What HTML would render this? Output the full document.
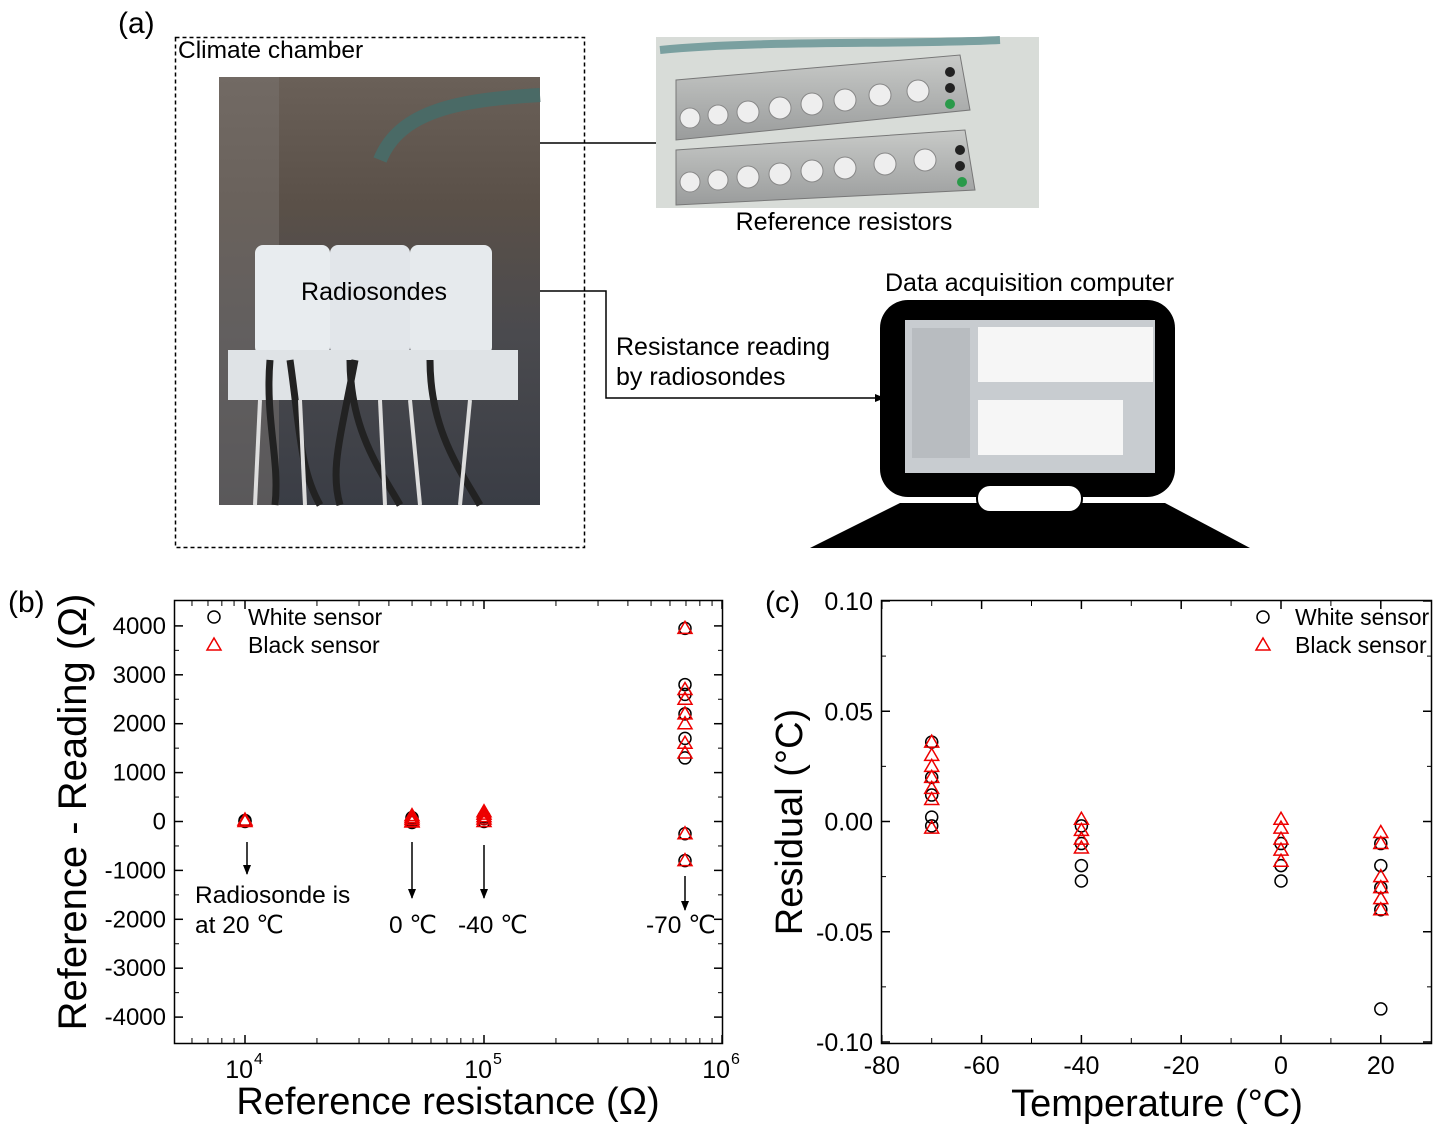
<!DOCTYPE html>
<html><head><meta charset="utf-8">
<style>
html,body{margin:0;padding:0;background:#fff;}
svg{display:block;font-family:"Liberation Sans",Arial,sans-serif;}
</style></head>
<body>
<svg id="s" width="1433" height="1126" viewBox="0 0 1433 1126" xmlns="http://www.w3.org/2000/svg">
<defs>
<linearGradient id="ph" x1="0" y1="0" x2="0" y2="1">
<stop offset="0" stop-color="#6a6058"/><stop offset="0.3" stop-color="#5a5048"/><stop offset="0.6" stop-color="#4a4a4e"/><stop offset="1" stop-color="#3a3d45"/></linearGradient>
<linearGradient id="rr" x1="0" y1="0" x2="0" y2="1">
<stop offset="0" stop-color="#c8cac8"/><stop offset="1" stop-color="#9a9c9c"/></linearGradient>
<marker id="ar" markerWidth="10" markerHeight="10" refX="9" refY="5" orient="auto" markerUnits="userSpaceOnUse"><path d="M0,1 L10,5 L0,9 z" fill="#000"/></marker>
</defs>
<!-- (a) -->
<text x="118" y="33" font-size="30">(a)</text>
<rect x="175.5" y="37.5" width="409" height="510" fill="none" stroke="#000" stroke-width="1.5" stroke-dasharray="4,3"/>
<text x="178" y="58" font-size="24.5">Climate chamber</text>
<rect x="219" y="77" width="321" height="428" fill="url(#ph)"/>
<rect x="219" y="77" width="60" height="428" fill="#7a7470" opacity="0.5"/>
<path d="M380,160 C400,110 460,100 540,95" stroke="#4a6a66" stroke-width="14" fill="none"/>
<rect x="255" y="245" width="75" height="110" rx="8" fill="#e8ecef"/>
<rect x="330" y="245" width="80" height="110" rx="8" fill="#e2e6ea"/>
<rect x="410" y="245" width="82" height="110" rx="8" fill="#e6eaed"/>
<rect x="228" y="350" width="290" height="50" fill="#dfe3e6"/>
<g stroke="#222" stroke-width="7" fill="none">
<path d="M270,360 C265,420 280,460 275,505"/><path d="M290,360 C300,430 300,470 320,505"/><path d="M350,360 C350,430 380,470 400,505"/><path d="M430,360 C430,430 460,470 480,505"/><path d="M355,360 C340,440 330,470 340,505"/></g>
<g stroke="#ddd" stroke-width="4" fill="none">
<path d="M260,400 L255,505"/><path d="M300,400 L305,505"/><path d="M380,400 L385,505"/><path d="M410,400 L420,505"/><path d="M470,400 L460,505"/></g>
<text x="374" y="300" font-size="25" text-anchor="middle">Radiosondes</text>
<line x1="540" y1="143" x2="656" y2="143" stroke="#000" stroke-width="1.5"/>
<rect x="656" y="37" width="383" height="171" fill="#d8dcd8"/>
<path d="M676,80 L960,55 L970,110 L676,140 z" fill="url(#rr)" stroke="#777"/>
<path d="M676,150 L965,130 L975,190 L676,205 z" fill="url(#rr)" stroke="#777"/>
<g fill="#eee" stroke="#888">
<circle cx="690" cy="118" r="10"/><circle cx="718" cy="115" r="10"/><circle cx="748" cy="112" r="11"/><circle cx="780" cy="108" r="11"/><circle cx="812" cy="104" r="11"/><circle cx="845" cy="100" r="11"/><circle cx="880" cy="95" r="11"/><circle cx="918" cy="91" r="11"/>
<circle cx="690" cy="182" r="10"/><circle cx="718" cy="180" r="10"/><circle cx="748" cy="177" r="11"/><circle cx="780" cy="174" r="11"/><circle cx="812" cy="171" r="11"/><circle cx="845" cy="168" r="11"/><circle cx="885" cy="164" r="11"/><circle cx="925" cy="160" r="11"/></g>
<circle cx="950" cy="72" r="5" fill="#222"/><circle cx="950" cy="88" r="5" fill="#222"/><circle cx="950" cy="104" r="5" fill="#2a9a4a"/>
<circle cx="960" cy="150" r="5" fill="#222"/><circle cx="960" cy="166" r="5" fill="#222"/><circle cx="962" cy="182" r="5" fill="#2a9a4a"/>
<path d="M660,50 C760,40 900,45 1000,40" stroke="#7aa0a0" stroke-width="8" fill="none"/>
<text x="844" y="230" font-size="25" text-anchor="middle">Reference resistors</text>
<polyline points="540,291 606,291 606,398 884,398" fill="none" stroke="#000" stroke-width="1.5" marker-end="url(#ar)"/>
<text x="616" y="355" font-size="25">Resistance reading</text>
<text x="616" y="385" font-size="25">by radiosondes</text>
<text x="885" y="291" font-size="25">Data acquisition computer</text>
<rect x="880" y="300" width="295" height="197" rx="28" fill="#000"/>
<rect x="905" y="320" width="250" height="153" fill="#c8ccd0"/>
<rect x="978" y="327" width="175" height="55" fill="#f6f6f6"/>
<rect x="978" y="400" width="145" height="55" fill="#f6f6f6"/>
<rect x="912" y="328" width="58" height="130" fill="#b8bcc0"/>
<polygon points="900,503 1165,503 1250,548 810,548" fill="#000"/>
<rect x="977" y="485" width="105" height="27" rx="13" fill="#fff" stroke="#000" stroke-width="2"/>
<!-- (b) -->
<text x="8" y="612" font-size="30">(b)</text>
<rect x="174.5" y="600.5" width="548" height="443" fill="none" stroke="#000" stroke-width="1.5"/>
<g id="bt" font-size="24" text-anchor="end"></g>
<text transform="translate(86,812) rotate(-90)" font-size="40" text-anchor="middle">Reference - Reading (Ω)</text>
<text x="448" y="1114" font-size="38" text-anchor="middle">Reference resistance (Ω)</text>
<circle cx="214" cy="617" r="6" fill="none" stroke="#000" stroke-width="1.5"/>
<text x="248" y="625" font-size="23">White sensor</text>
<polygon points="214,638 221,650 207,650" fill="none" stroke="#e00" stroke-width="1.5"/>
<text x="248" y="653" font-size="23">Black sensor</text>
<g stroke="#000" stroke-width="1.5" fill="none">
<line x1="247" y1="842" x2="247" y2="874" marker-end="url(#ar)"/>
<line x1="412" y1="842" x2="412" y2="898" marker-end="url(#ar)"/>
<line x1="484" y1="845" x2="484" y2="898" marker-end="url(#ar)"/>
<line x1="685" y1="876" x2="685" y2="910" marker-end="url(#ar)"/></g>
<g font-size="24.5">
<text x="195" y="903">Radiosonde is</text><text x="195" y="933">at 20 ℃</text>
<text x="389" y="933">0 ℃</text><text x="458" y="933">-40 ℃</text><text x="646" y="933">-70 ℃</text></g>
<g id="bp"></g>
<!-- (c) -->
<text x="765" y="612" font-size="30">(c)</text>
<rect x="881.5" y="600.5" width="550" height="443" fill="none" stroke="#000" stroke-width="1.5"/>
<g id="ct" font-size="25"></g>
<text transform="translate(802,822) rotate(-90)" font-size="38" text-anchor="middle">Residual (°C)</text>
<text x="1157" y="1116" font-size="38" text-anchor="middle">Temperature (°C)</text>
<circle cx="1263" cy="617" r="6" fill="none" stroke="#000" stroke-width="1.5"/>
<text x="1295" y="625" font-size="23">White sensor</text>
<polygon points="1263,638 1270,650 1256,650" fill="none" stroke="#e00" stroke-width="1.5"/>
<text x="1295" y="653" font-size="23">Black sensor</text>
<g id="cp"></g>
</svg>
<script>
var NS="http://www.w3.org/2000/svg";
function el(p,t,a,txt){var e=document.createElementNS(NS,t);for(var k in a)e.setAttribute(k,a[k]);if(txt!=null)e.textContent=txt;document.getElementById(p).appendChild(e);return e;}
function circ(p,x,y){el(p,"circle",{cx:x,cy:y,r:6,fill:"none",stroke:"#000","stroke-width":1.5});}
function tri(p,x,y){el(p,"polygon",{points:x+","+(y-7)+" "+(x+7)+","+(y+5)+" "+(x-7)+","+(y+5),fill:"none",stroke:"#e00","stroke-width":1.5});}
for(var v=-4000;v<=4000;v+=1000){var y=821.5-v*0.0489;
 el("bt","text",{x:166,y:y+8},String(v));
 el("bt","line",{x1:175,y1:y,x2:183,y2:y,stroke:"#000","stroke-width":1.5});
 el("bt","line",{x1:722,y1:y,x2:714,y2:y,stroke:"#000","stroke-width":1.5});
 if(v<4000){var y2=y-24.45;el("bt","line",{x1:175,y1:y2,x2:179,y2:y2,stroke:"#000"});el("bt","line",{x1:722,y1:y2,x2:718,y2:y2,stroke:"#000"});}}
var dec=[[245,"4"],[484,"5"],[722,"6"]];
dec.forEach(function(d){el("bt","text",{x:d[0]+8,y:1078,"text-anchor":"end","font-size":25},"10");
 el("bt","text",{x:d[0]+9,y:1064,"font-size":16,"text-anchor":"start"},d[1]);
 el("bt","line",{x1:d[0],y1:1043,x2:d[0],y2:1035,stroke:"#000","stroke-width":1.5});
 el("bt","line",{x1:d[0],y1:601,x2:d[0],y2:609,stroke:"#000","stroke-width":1.5});});
for(var d0=3;d0<6;d0++)for(var m=2;m<10;m++){var x=245+(d0-4+Math.log10(m))*239;if(x>175&&x<722){
 el("bt","line",{x1:x,y1:1043,x2:x,y2:1038,stroke:"#000"});el("bt","line",{x1:x,y1:601,x2:x,y2:606,stroke:"#000"});}}
function by(v){return 821.5-v*0.0489;}
[[245,[0,20]],[412,[0,40,80,-20]],[484,[0,60,100]],[685,[3950,2800,2600,2200,1700,1300,-250,-800]]].forEach(function(g){g[1].forEach(function(v){circ("bp",g[0],by(v));});});
[[245,[0,30]],[412,[0,40,80,120,-10]],[484,[0,50,100,150,200]],[685,[3950,2700,2500,2200,2000,1600,1400,-250,-800]]].forEach(function(g){g[1].forEach(function(v){tri("bp",g[0],by(v));});});
var cy=function(v){return 821.5-v*2205;};
[0.10,0.05,0,-0.05,-0.10].forEach(function(v){var y=cy(v);
 el("ct","text",{x:873,y:y+9,"text-anchor":"end"},v.toFixed(2));
 el("ct","line",{x1:882,y1:y,x2:890,y2:y,stroke:"#000","stroke-width":1.5});
 el("ct","line",{x1:1431,y1:y,x2:1423,y2:y,stroke:"#000","stroke-width":1.5});
 var y2=y+55.1;if(v>-0.1){el("ct","line",{x1:882,y1:y2,x2:886,y2:y2,stroke:"#000"});el("ct","line",{x1:1431,y1:y2,x2:1427,y2:y2,stroke:"#000"});}});
var cx=function(t){return 1281+t*4.99;};
for(var t=-80;t<=20;t+=20){var x=cx(t);el("ct","text",{x:x,y:1074,"text-anchor":"middle"},String(t));
 el("ct","line",{x1:x,y1:1043,x2:x,y2:1035,stroke:"#000","stroke-width":1.5});el("ct","line",{x1:x,y1:601,x2:x,y2:609,stroke:"#000","stroke-width":1.5});
 if(t<20){var xm=cx(t+10);el("ct","line",{x1:xm,y1:1043,x2:xm,y2:1038,stroke:"#000"});el("ct","line",{x1:xm,y1:601,x2:xm,y2:606,stroke:"#000"});}}
[[-70,[0.036,0.02,0.012,0.002,-0.002]],[-40,[-0.002,-0.01,-0.02,-0.027]],[0,[-0.01,-0.02,-0.027]],[20,[-0.01,-0.02,-0.03,-0.04,-0.085]]].forEach(function(g){g[1].forEach(function(v){circ("cp",cx(g[0]),cy(v));});});
[[-70,[0.036,0.03,0.025,0.02,0.015,0.01,-0.003]],[-40,[0.001,-0.004,-0.008,-0.012]],[0,[0.001,-0.003,-0.008,-0.013,-0.018]],[20,[-0.005,-0.01,-0.025,-0.03,-0.035,-0.04]]].forEach(function(g){g[1].forEach(function(v){tri("cp",cx(g[0]),cy(v));});});
</script>
</body></html>
